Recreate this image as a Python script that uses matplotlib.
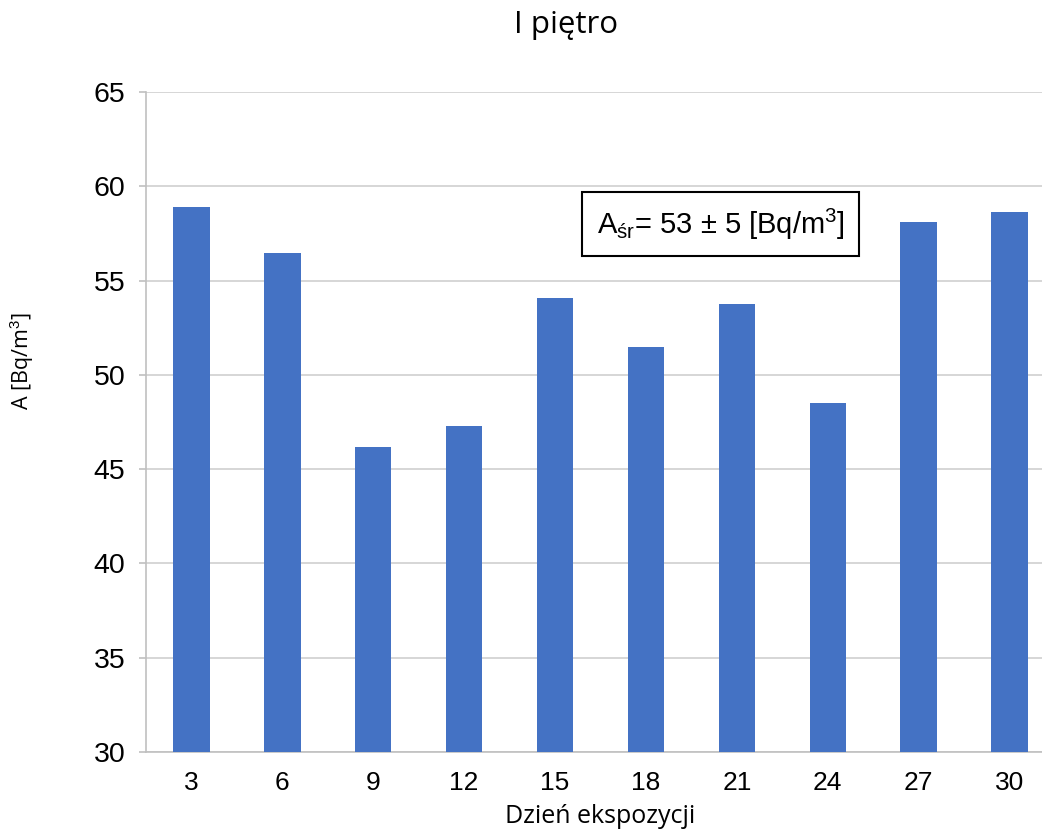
import matplotlib.pyplot as plt
import numpy as np

plt.rcParams['mathtext.fontset'] = 'custom'
plt.rcParams['mathtext.rm'] = 'Liberation Sans'
plt.rcParams['mathtext.it'] = 'Liberation Sans'

# dane z wykresu
days = ["3", "6", "9", "12", "15", "18", "21", "24", "27", "30"]
activity = [58.9, 56.45, 46.2, 47.3, 54.1, 51.5, 53.75, 48.5, 58.1, 58.65]
yticks = [30, 35, 40, 45, 50, 55, 60, 65]

fig = plt.figure(figsize=(10.42, 8.36), dpi=100)
# prawa krawedz osi wychodzi poza obraz, jak w oryginale
ax = fig.add_axes([146 / 1042, 1 - 752 / 836, 909 / 1042, 660 / 836])

x = np.arange(len(days))
ax.bar(x, activity, width=0.4, color="#4472C4", zorder=3)

ax.set_xlim(-0.5, len(days) - 0.5)
ax.set_ylim(30, 65)
ax.set_yticks(yticks)
ax.set_xticks(x)
ax.set_xticklabels(days, fontsize=19, family="Liberation Sans")
ax.set_yticklabels([str(v) for v in yticks], fontsize=20.5, family="Liberation Sans")

ax.grid(axis="y", color="#d0d0d0", linewidth=1.2, zorder=0)
for s in ["top", "right"]:
    ax.spines[s].set_visible(False)
for s in ["left", "bottom"]:
    ax.spines[s].set_color("#c0c0c0")
    ax.spines[s].set_linewidth(1.2)
ax.tick_params(axis="y", length=5, color="#c0c0c0", width=1.2, pad=10)
ax.tick_params(axis="x", direction="in", length=5, color="#c0c0c0", width=1.2, pad=14)

fig.text(566 / 1042, 1 - 33 / 836, "I piętro", fontsize=22.5, family="Open Sans",
         ha="center", va="baseline")
ax.set_xlabel("Dzień ekspozycji", fontsize=18, family="Open Sans", labelpad=6)
fig.text(22 / 1042, 1 - 361 / 836, "A [Bq/m$^3$]", fontsize=15.5, family="Open Sans",
         rotation=90, ha="center", va="center")

ax.text(0.632, 0.80, "A$_{\\mathrm{śr}}$= 53 ± 5 [Bq/m$^3$]", transform=ax.transAxes,
        ha="center", va="center", fontsize=21, family="Liberation Sans", zorder=5,
        bbox=dict(boxstyle="square,pad=0.5", facecolor="white", edgecolor="black", linewidth=1.5))

fig.savefig("out.png", dpi=100)
